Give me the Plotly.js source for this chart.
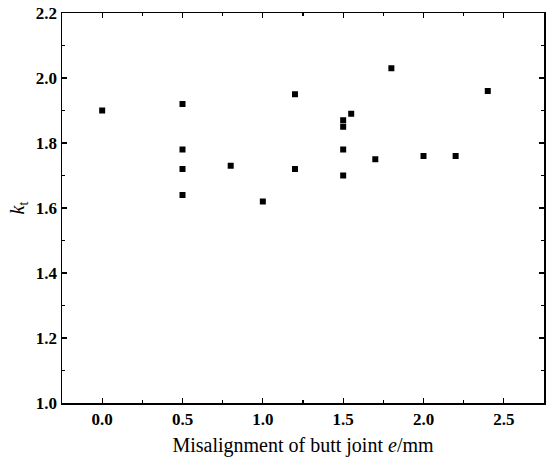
<!DOCTYPE html>
<html>
<head>
<meta charset="utf-8">
<script src="https://cdn.plot.ly/plotly-3.0.1.min.js"></script>
<style>html,body{margin:0;padding:0;background:#fff;}#chart{width:550px;height:465px;}</style>
</head>
<body>
<div id="chart"></div>
<script>
const misalignment = [0.0, 0.5, 0.5, 0.5, 0.5, 0.8, 1.0, 1.2, 1.2, 1.5, 1.5, 1.5, 1.5, 1.55, 1.7, 1.8, 2.0, 2.2, 2.4];
const kt = [1.90, 1.92, 1.78, 1.72, 1.64, 1.73, 1.62, 1.95, 1.72, 1.87, 1.85, 1.78, 1.70, 1.89, 1.75, 2.03, 1.76, 1.76, 1.96];
const xTickVals = [0, 0.5, 1.0, 1.5, 2.0, 2.5];
const xTickText = ['0.0', '0.5', '1.0', '1.5', '2.0', '2.5'];
const yTickVals = [1.0, 1.2, 1.4, 1.6, 1.8, 2.0, 2.2];
const yTickText = ['1.0', '1.2', '1.4', '1.6', '1.8', '2.0', '2.2'];

const serif = '"Liberation Serif", "Times New Roman", serif';
const trace = {
  x: misalignment, y: kt, mode: 'markers', type: 'scatter',
  marker: {symbol: 'square', size: 6, color: '#000'},
  showlegend: false
};
const tickFont = {family: serif, size: 17, color: '#000', weight: 'bold'};
const layout = {
  width: 550, height: 465,
  margin: {l: 62, r: 6, t: 13, b: 62},
  paper_bgcolor: '#fff', plot_bgcolor: '#fff',
  xaxis: {
    range: [-0.25, 2.75], tickvals: xTickVals, ticktext: xTickText,
    ticks: 'inside', ticklen: 5, tickwidth: 1.3, tickcolor: '#000',
    minor: {dtick: 0.25, tick0: 0, ticks: 'inside', ticklen: 3, tickwidth: 1.3, tickcolor: '#000'},
    showline: true, linecolor: '#000', linewidth: 1.5, mirror: 'ticks',
    showgrid: false, zeroline: false,
    tickfont: tickFont,
    title: {text: 'Misalignment of butt joint <i>e</i>/mm', font: {family: serif, size: 20, color: '#000'}, standoff: 10}
  },
  yaxis: {
    range: [1.0, 2.2], tickvals: yTickVals, ticktext: yTickText,
    ticks: 'inside', ticklen: 5, tickwidth: 1.3, tickcolor: '#000',
    minor: {dtick: 0.1, tick0: 1.0, ticks: 'inside', ticklen: 3, tickwidth: 1.3, tickcolor: '#000'},
    showline: true, linecolor: '#000', linewidth: 1.5, mirror: 'ticks',
    showgrid: false, zeroline: false,
    tickfont: tickFont,
    title: {text: '<i>k</i><sub>t</sub>', font: {family: serif, size: 20, color: '#000'}, standoff: 6}
  }
};
Plotly.newPlot('chart', [trace], layout, {displayModeBar: false, staticPlot: true});
</script>
</body>
</html>
